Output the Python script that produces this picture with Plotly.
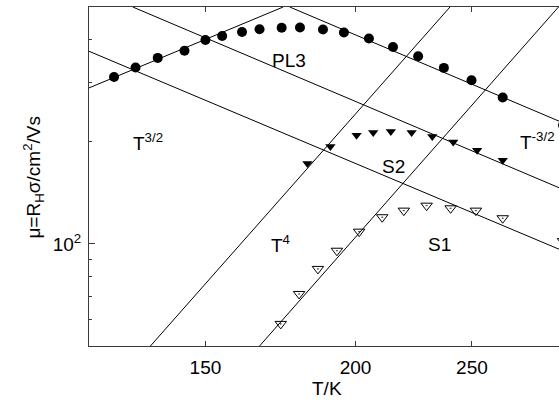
import math
import plotly.graph_objects as go

# Hall mobility vs temperature, three samples
T_pl3 = [125.9, 131.2, 136.9, 144.1, 150.0, 154.9, 160.9, 166.4, 173.6, 179.8,
         187.9, 195.6, 205.2, 214.9, 225.5, 236.9, 249.8, 265.2, 297.7]
mu_pl3 = [310.9, 331.4, 353.9, 371.5, 399.8, 410.8, 422.1, 429.8, 434.3, 434.8,
          428.9, 420.3, 403.5, 381.1, 357.9, 330.6, 304.0, 270.3, 224.0]

T_s2 = [182.4, 190.6, 200.4, 206.9, 214.0, 222.7, 231.7, 241.2, 252.5, 265.2]
mu_s2 = [172.7, 193.8, 209.2, 213.1, 214.6, 213.1, 207.5, 199.9, 189.0, 176.6]

T_s1 = [173.3, 179.5, 186.1, 193.0, 201.4, 210.5, 219.4, 229.2, 240.0, 251.9,
        265.2, 297.7]
mu_s1 = [58.1, 71.2, 84.4, 95.5, 108.7, 119.9, 125.4, 129.7, 127.4, 125.4,
         119.1, 102.0]

# power-law guide lines, given by their end points (T, mu)
fit_t32_T, fit_t32_mu = [120.0, 174.1], [288.6, 500.0]      # T^3/2
fit_pl3_T, fit_pl3_mu = [176.3, 295.4], [500.0, 230.3]      # T^-3/2 (PL3)
fit_s2_T, fit_s2_mu = [130.5, 295.4], [500.0, 146.5]        # T^-3/2 (S2)
fit_s1_T, fit_s1_mu = [120.0, 295.4], [370.2, 96.5]         # T^-3/2 (S1)
fit_s2lo_T, fit_s2lo_mu = [135.0, 239.7], [50.0, 500.0]     # T^4 (S2)
fit_s1lo_T, fit_s1lo_mu = [166.4, 295.1], [50.0, 500.0]     # T^4 (S1)

x_ticks = [150, 200, 250]
y_ticks = [100]
y_ticktext = ["10<sup>2</sup>"]
y_minor = [60, 70, 80, 90, 200, 300, 400]

FONT = "Liberation Sans, Arial, sans-serif"
FS = 19
AX = "#3a3a3a"

fig = go.Figure()

for tx, my in [(fit_t32_T, fit_t32_mu), (fit_pl3_T, fit_pl3_mu),
               (fit_s2_T, fit_s2_mu), (fit_s1_T, fit_s1_mu),
               (fit_s2lo_T, fit_s2lo_mu), (fit_s1lo_T, fit_s1lo_mu)]:
    fig.add_trace(go.Scatter(x=tx, y=my, mode="lines",
                             line=dict(color="black", width=1),
                             hoverinfo="skip", showlegend=False))

fig.add_trace(go.Scatter(x=T_pl3, y=mu_pl3, mode="markers", showlegend=False,
                         marker=dict(symbol="circle", size=10, color="black")))
fig.add_trace(go.Scatter(x=T_s2, y=mu_s2, mode="markers", showlegend=False,
                         marker=dict(symbol="triangle-down", size=9, color="black")))
fig.add_trace(go.Scatter(x=T_s1, y=mu_s1, mode="markers", showlegend=False,
                         marker=dict(symbol="triangle-down-open-dot", size=10,
                                     color="black", line=dict(width=1, color="black"))))

labels = [
    ("PL3", 176.0, 348.3, "center"),
    ("T<sup>3/2</sup>", 134.3, 199.5, "center"),
    ("S2", 215.1, 168.9, "center"),
    ("T<sup>-3/2</sup>", 294.3, 201.6, "right"),
    ("T<sup>4</sup>", 173.3, 99.8, "center"),
    ("S1", 235.1, 99.8, "center"),
]
for text, tx, my, xa in labels:
    fig.add_annotation(x=math.log10(tx), y=math.log10(my), text=text,
                       showarrow=False, xanchor=xa, yanchor="middle",
                       font=dict(family=FONT, size=FS, color="black"))

# axis titles
fig.add_annotation(xref="paper", yref="paper", x=0.5057, y=-0.124,
                   text="T/K", showarrow=False, xanchor="center", yanchor="middle",
                   font=dict(family=FONT, size=FS, color="black"))
fig.add_annotation(xref="paper", yref="paper", x=-0.119, y=0.497,
                   text="μ=R<sub>H</sub>σ/cm<sup>2</sup>/Vs", textangle=-90,
                   showarrow=False, xanchor="center", yanchor="middle",
                   font=dict(family=FONT, size=FS, color="black"))

fig.update_xaxes(type="log", range=[math.log10(120), math.log10(295.4)],
                 tickmode="array", tickvals=x_ticks, ticktext=[str(v) for v in x_ticks],
                 ticks="inside", ticklen=5, tickwidth=1, tickcolor=AX,
                 ticklabelstandoff=4,
                 showline=True, linecolor=AX, linewidth=1, mirror="ticks",
                 showgrid=False, zeroline=False,
                 tickfont=dict(family=FONT, size=FS, color="black"))
fig.update_yaxes(type="log", range=[math.log10(50), math.log10(500)],
                 tickmode="array", tickvals=y_ticks, ticktext=y_ticktext,
                 ticks="inside", ticklen=6, tickwidth=1, tickcolor=AX,
                 ticklabelstandoff=3,
                 minor=dict(tickmode="array", tickvals=y_minor, ticks="inside",
                            ticklen=3, tickwidth=1, tickcolor=AX, showgrid=False),
                 showline=True, linecolor=AX, linewidth=1, mirror=False,
                 showgrid=False, zeroline=False,
                 tickfont=dict(family=FONT, size=FS, color="black"))

fig.update_layout(width=559, height=405,
                  margin=dict(l=89, r=0, t=7, b=59, pad=0),
                  paper_bgcolor="white", plot_bgcolor="white",
                  font=dict(family=FONT, size=FS, color="black"))

fig.write_html("out.html")
